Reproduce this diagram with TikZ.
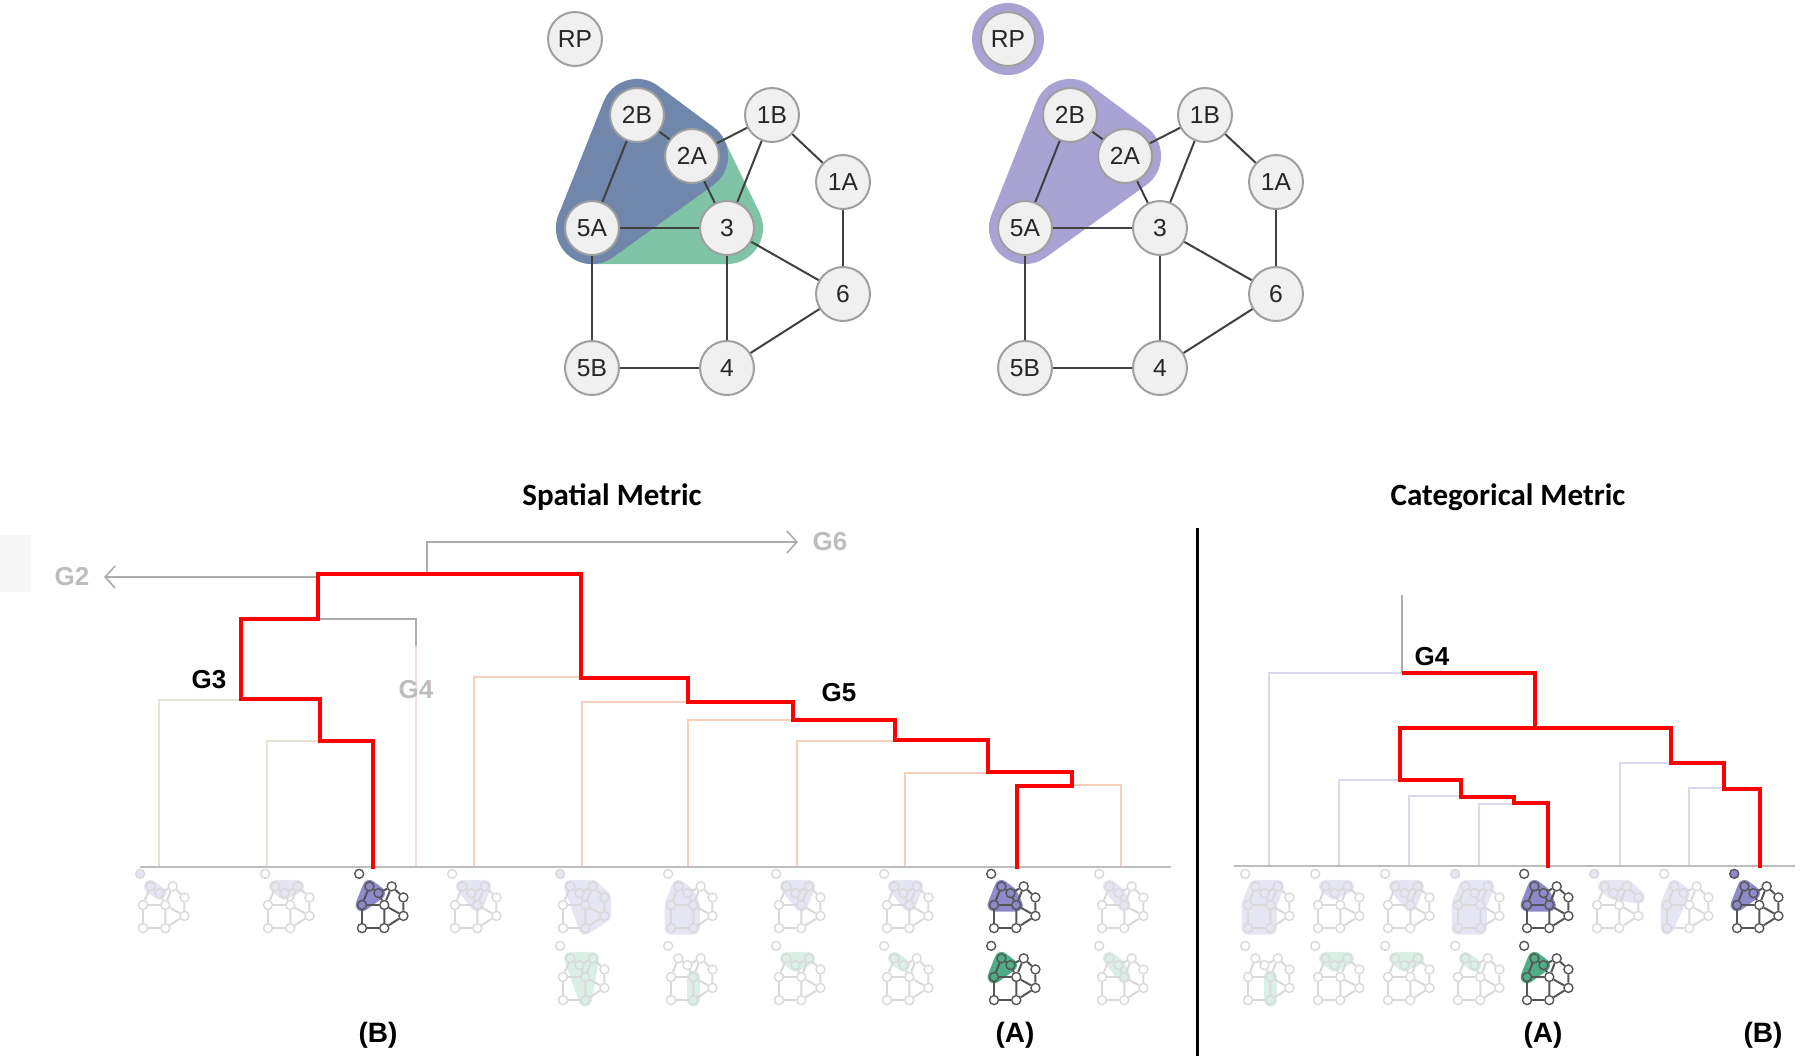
\documentclass[tikz,border=0pt]{standalone}
\usepackage{fontspec}
\setmainfont{Liberation Sans}
\newfontfamily\titlefont{Carlito}
\usetikzlibrary{arrows.meta}
\usepackage{xcolor}
\definecolor{hullblue}{HTML}{7086AA}
\definecolor{hullgreen}{HTML}{7FC4A6}
\definecolor{hullpurple}{HTML}{A8A3D3}
\definecolor{thumbpurple}{HTML}{8E89C8}
\definecolor{thumbgreen}{HTML}{4FAE86}
\definecolor{fadepurple}{HTML}{E6E5F3}
\definecolor{fadegreen}{HTML}{DAF0E6}
\definecolor{fadeline}{HTML}{D9D9D9}
\definecolor{darkline}{HTML}{555555}
\definecolor{nodefill}{HTML}{F0F0F0}
\definecolor{treered}{HTML}{FF0000}
\definecolor{treegray}{HTML}{ADADAD}
\definecolor{g3line}{HTML}{E4E3D6}
\definecolor{g4line}{HTML}{F5DCE6}
\definecolor{g5line}{HTML}{F8D0B8}
\definecolor{catline}{HTML}{DAD8EE}
\definecolor{labelgray}{HTML}{BDBDBD}
\tikzstyle{gnode}=[circle, draw=gray!75, fill=nodefill, minimum size=27pt, inner sep=0pt, line width=1pt, text=black!85, font=\fontsize{12.3}{13}\selectfont]
\tikzstyle{gedge}=[line width=1pt, draw=black!75]
\tikzstyle{hull}=[line width=36pt, line join=round, line cap=round]
\tikzstyle{tnode}=[circle, minimum size=4.5pt, inner sep=0pt, line width=0.7pt]
\tikzstyle{tree}=[line width=2.3pt, color=treered]
\tikzstyle{faint}=[line width=0.8pt]
\tikzstyle{glabel}=[font=\fontsize{13}{14}\selectfont\bfseries]
\tikzstyle{title}=[font=\titlefont\fontsize{15.5}{17}\selectfont\bfseries]
\tikzstyle{case}=[font=\fontsize{14}{15}\selectfont\bfseries]
\newcommand{\graphnodes}{RP/-17/-189, 2B/45/-113, 1B/180/-113, 2A/100/-72, 1A/251/-46, 5A/0/0, 3/135/0, 6/251/66, 5B/0/140, 4/135/140}
\newcommand{\graphedges}{2B/2A, 2B/5A, 2A/1B, 2A/3, 1B/3, 1B/1A, 1A/6, 5A/3, 5A/5B, 3/6, 3/4, 5B/4, 4/6}
% small copy of the graph: x, y of 5A, line colour, hull colour, hull path, RP fill
\newcommand{\minigraph}[6]{%
  \begin{scope}[shift={(#1,#2)}, scale=0.165]
    \foreach \n/\x/\y in \graphnodes \coordinate (c\n) at (\x,\y);
    \filldraw[#4, line width=6.5pt, line join=round, line cap=round] #5 -- cycle;
    \foreach \n in {2B,1B,2A,1A,5A,3,6,5B,4} \node[tnode, draw=#3] (t\n) at (c\n) {};
    \node[tnode, draw=#3, fill=#6] (tRP) at (cRP) {};
    \foreach \a/\b in \graphedges \draw[#3, line width=1pt] (t\a) -- (t\b);
  \end{scope}}

\begin{document}
\begin{tikzpicture}[x=0.5pt, y=-0.5pt, >={Straight Barb[length=5pt,width=11pt]}]
\useasboundingbox (0,0) rectangle (1800,1062);

% left graph
\begin{scope}[shift={(592,228)}]
    \foreach \n/\x/\y in \graphnodes \coordinate (pl\n) at (\x,\y);
    \filldraw[hull, hullgreen] (pl2A) -- (pl3) -- (pl5A) -- cycle;
    \filldraw[hull, hullblue] (pl2B) -- (pl2A) -- (pl5A) -- cycle;
    \foreach \n in {RP,2B,1B,2A,1A,5A,3,6,5B,4} \node[gnode] (l\n) at (pl\n) {\n};
    \foreach \a/\b in \graphedges \draw[gedge] (l\a) -- (l\b);
\end{scope}

% right graph
\begin{scope}[shift={(1025,228)}]
    \foreach \n/\x/\y in \graphnodes \coordinate (pr\n) at (\x,\y);
    \fill[hullpurple] (prRP) circle (18pt);
    \filldraw[hull, hullpurple] (pr2B) -- (pr2A) -- (pr5A) -- cycle;
    \foreach \n in {RP,2B,1B,2A,1A,5A,3,6,5B,4} \node[gnode] (r\n) at (pr\n) {\n};
    \foreach \a/\b in \graphedges \draw[gedge] (r\a) -- (r\b);
\end{scope}

\node[title] (spatial) at (612,497) {Spatial Metric};
\node[title] (categorical) at (1508,497) {Categorical Metric};
\draw[line width=1.5pt] (1197,528) -- (1197,1056);

% spatial tree
\fill[black!3] (0,535) rectangle (31,592);
\draw[faint, g3line] (241,700) -- (159,700) -- (159,867);
\draw[faint, g3line] (320,741) -- (267,741) -- (267,867);
\draw[faint, g4line] (416,646) -- (416,867);
\draw[faint, g5line] (581,677) -- (474,677) -- (474,867);
\draw[faint, g5line] (688,702) -- (582,702) -- (582,867);
\draw[faint, g5line] (793,720) -- (688,720) -- (688,867);
\draw[faint, g5line] (895,741) -- (797,741) -- (797,867);
\draw[faint, g5line] (988,773) -- (905,773) -- (905,867);
\draw[faint, g5line] (1072,785) -- (1121,785) -- (1121,867);
\draw[line width=1pt, treegray!80] (140,867) -- (1171,867);
\draw[faint, treegray] (318,619) -- (416,619) -- (416,646);
\node[glabel, text=labelgray, outer sep=4pt] (g2) at (72,577) {G2};
\node[glabel, text=labelgray, outer sep=4pt] (g6) at (830,542) {G6};
\draw[faint, treegray, ->] (318,577) -- (g2);
\draw[faint, treegray, ->] (427,574) |- (g6);
\draw[tree] (373,869) -- (373,741) -- (320,741) -- (320,699) -- (241,699) -- (241,619)
    -- (318,619) -- (318,574) -- (581,574) -- (581,678) -- (688,678) -- (688,702)
    -- (793,702) -- (793,720) -- (895,720) -- (895,740) -- (988,740) -- (988,772)
    -- (1072,772) -- (1072,786) -- (1017,786) -- (1017,869);
\node[glabel] (g3) at (209,680) {G3};
\node[glabel, text=labelgray] (g4s) at (416,690) {G4};
\node[glabel] (g5) at (839,693) {G5};

% categorical tree
\draw[faint, catline] (1402,673) -- (1269,673) -- (1269,866);
\draw[faint, catline] (1400,780) -- (1339,780) -- (1339,866);
\draw[faint, catline] (1461,796) -- (1409,796) -- (1409,866);
\draw[faint, catline] (1514,804) -- (1479,804) -- (1479,866);
\draw[faint, catline] (1671,763) -- (1620,763) -- (1620,866);
\draw[faint, catline] (1724,788) -- (1689,788) -- (1689,866);
\draw[line width=1pt, treegray!80] (1234,866) -- (1795,866);
\draw[faint, treegray] (1402,595) -- (1402,673);
\draw[tree] (1402,673) -- (1535,673) -- (1535,728);
\draw[tree] (1548,868) -- (1548,803) -- (1514,803) -- (1514,797) -- (1461,797) -- (1461,780)
    -- (1400,780) -- (1400,728) -- (1671,728) -- (1671,763) -- (1724,763) -- (1724,789)
    -- (1760,789) -- (1760,868);
\node[glabel] (g4c) at (1432,657) {G4};

% spatial thumbnails
\minigraph{143}{905}{fadeline}{fadepurple}{(c2B) -- (c2A)}{fadepurple}
\minigraph{268}{905}{fadeline}{fadepurple}{(c2B) -- (c1B) -- (c2A)}{white}
\minigraph{362}{905}{darkline}{thumbpurple}{(c2B) -- (c2A) -- (c5A)}{white}
\minigraph{455}{905}{fadeline}{fadepurple}{(c2B) -- (c1B) -- (c3)}{white}
\minigraph{563}{905}{fadeline}{fadepurple}{(c2B) -- (c1B) -- (c1A) -- (c6) -- (c4)}{fadepurple}
\minigraph{671}{905}{fadeline}{fadepurple}{(c2B) -- (c2A) -- (c3) -- (c4) -- (c5B) -- (c5A)}{white}
\minigraph{779}{905}{fadeline}{fadepurple}{(c2B) -- (c1B) -- (c3)}{white}
\minigraph{887}{905}{fadeline}{fadepurple}{(c2B) -- (c1B) -- (c3)}{white}
\minigraph{994}{905}{darkline}{thumbpurple}{(c2B) -- (c2A) -- (c3) -- (c5A)}{white}
\minigraph{1102}{905}{fadeline}{fadepurple}{(c2B) -- (c2A) -- (c3)}{white}
\minigraph{563}{977}{fadeline}{fadegreen}{(c2B) -- (c1B) -- (c4)}{white}
\minigraph{671}{977}{fadeline}{fadegreen}{(c3) -- (c4)}{white}
\minigraph{779}{977}{fadeline}{fadegreen}{(c2B) -- (c1B) -- (c2A)}{white}
\minigraph{887}{977}{fadeline}{fadegreen}{(c2B) -- (c2A)}{white}
\minigraph{994}{977}{darkline}{thumbgreen}{(c2B) -- (c2A) -- (c5A)}{white}
\minigraph{1102}{977}{fadeline}{fadegreen}{(c2B) -- (c2A) -- (c3)}{white}

% categorical thumbnails
\minigraph{1248}{905}{fadeline}{fadepurple}{(c2B) -- (c1B) -- (c3) -- (c4) -- (c5B) -- (c5A)}{white}
\minigraph{1318}{905}{fadeline}{fadepurple}{(c2B) -- (c1B) -- (c2A)}{white}
\minigraph{1388}{905}{fadeline}{fadepurple}{(c2B) -- (c1B) -- (c3)}{white}
\minigraph{1458}{905}{fadeline}{fadepurple}{(c2B) -- (c1B) -- (c3) -- (c4) -- (c5B) -- (c5A)}{fadepurple}
\minigraph{1527}{905}{darkline}{thumbpurple}{(c2B) -- (c2A) -- (c3) -- (c5A)}{white}
\minigraph{1597}{905}{fadeline}{fadepurple}{(c2B) -- (c1B) -- (c1A) -- (c2A)}{fadepurple}
\minigraph{1667}{905}{fadeline}{fadepurple}{(c2B) -- (c2A) -- (c5B) -- (c5A)}{white}
\minigraph{1737}{905}{darkline}{thumbpurple}{(c2B) -- (c2A) -- (c5A)}{thumbpurple}
\minigraph{1248}{977}{fadeline}{fadegreen}{(c3) -- (c4)}{white}
\minigraph{1318}{977}{fadeline}{fadegreen}{(c2B) -- (c1B) -- (c2A)}{white}
\minigraph{1388}{977}{fadeline}{fadegreen}{(c2B) -- (c1B) -- (c2A)}{white}
\minigraph{1458}{977}{fadeline}{fadegreen}{(c2B) -- (c2A)}{white}
\minigraph{1527}{977}{darkline}{thumbgreen}{(c2B) -- (c2A) -- (c5A)}{white}

\node[case] (sB) at (378,1035) {(B)};
\node[case] (sA) at (1015,1035) {(A)};
\node[case] (cA) at (1543,1035) {(A)};
\node[case] (cB) at (1763,1035) {(B)};
\end{tikzpicture}
\end{document}
